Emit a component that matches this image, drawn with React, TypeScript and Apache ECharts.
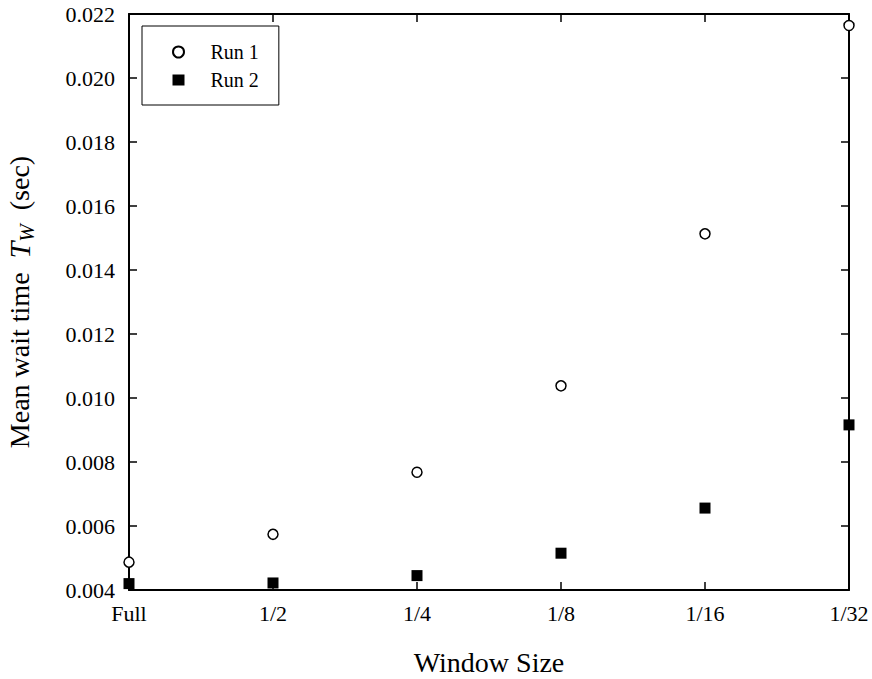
import React, { useEffect, useRef } from "react";
import * as echarts from "echarts";

const categories = ["Full", "1/2", "1/4", "1/8", "1/16", "1/32"];
const run1 = [0.00487, 0.00574, 0.00768, 0.01038, 0.01513, 0.02164];
const run2 = [0.0042, 0.00422, 0.00445, 0.00515, 0.00656, 0.00916];
const yMin = 0.004;
const yMax = 0.022;
const yStep = 0.002;

const FONT = "Liberation Serif, serif";

export default function App() {
  const ref = useRef<HTMLDivElement>(null);
  useEffect(() => {
    if (!ref.current) return;
    const chart = echarts.init(ref.current, undefined, { renderer: "svg" });
    const axisLine = { show: true, lineStyle: { color: "#000", width: 2 } };
    const tick = { show: true, inside: true, length: 8, lineStyle: { color: "#000", width: 1.5 } };
    chart.setOption({
      animation: false,
      backgroundColor: "#fff",
      textStyle: { fontFamily: FONT, color: "#000" },
      grid: {
        left: 129,
        right: 23,
        top: 14,
        bottom: 89,
        containLabel: false,
        outerBoundsMode: "none",
      },
      legend: {
        left: 142,
        top: 26,
        orient: "vertical",
        borderColor: "#000",
        borderWidth: 1,
        borderRadius: 0,
        padding: [16, 20, 15, 30],
        itemWidth: 12,
        itemHeight: 11,
        itemGap: 8,
        textStyle: {
          fontFamily: FONT,
          fontSize: 20,
          color: "#000",
          lineHeight: 19,
          padding: [0, 0, 0, 21],
        },
        data: [
          { name: "Run 1", icon: "circle" },
          { name: "Run 2", icon: "rect" },
        ],
      },
      xAxis: [
        {
          type: "category",
          data: categories,
          boundaryGap: false,
          axisLine,
          axisTick: tick,
          axisLabel: { fontFamily: FONT, fontSize: 22, color: "#000", margin: 12 },
          splitLine: { show: false },
          name: "Window Size",
          nameLocation: "middle",
          nameGap: 58,
          nameTextStyle: { fontFamily: FONT, fontSize: 28, color: "#000", lineHeight: 28 },
        },
        {
          type: "category",
          data: categories,
          boundaryGap: false,
          position: "top",
          axisLine,
          axisTick: tick,
          axisLabel: { show: false },
          splitLine: { show: false },
        },
      ],
      yAxis: [
        {
          type: "value",
          min: yMin,
          max: yMax,
          interval: yStep,
          axisLine,
          axisTick: tick,
          axisLabel: {
            fontFamily: FONT,
            fontSize: 22,
            color: "#000",
            margin: 14,
            formatter: (v: number) => v.toFixed(3),
          },
          splitLine: { show: false },
          name: "{n|Mean wait time  }{t|T}{s|W}{n|  (sec)}",
          nameLocation: "middle",
          nameGap: 92,
          nameTextStyle: {
            fontFamily: FONT,
            fontSize: 28,
            color: "#000",
            rich: {
              n: { fontFamily: FONT, fontSize: 28, color: "#000", lineHeight: 36 },
              t: { fontFamily: FONT, fontSize: 30, fontStyle: "italic", color: "#000", lineHeight: 36 },
              s: {
                fontFamily: FONT,
                fontSize: 21,
                fontStyle: "italic",
                color: "#000",
                lineHeight: 21,
                verticalAlign: "bottom",
              },
            },
          },
        },
        {
          type: "value",
          min: yMin,
          max: yMax,
          interval: yStep,
          position: "right",
          axisLine,
          axisTick: tick,
          axisLabel: { show: false },
          splitLine: { show: false },
        },
      ],
      series: [
        {
          name: "Run 1",
          type: "scatter",
          data: run1,
          symbol: "circle",
          symbolSize: 10,
          clip: false,
          itemStyle: { color: "#fff", borderColor: "#000", borderWidth: 1.5, opacity: 1 },
          z: 5,
        },
        {
          name: "Run 2",
          type: "scatter",
          data: run2,
          symbol: "rect",
          symbolSize: 11,
          clip: false,
          itemStyle: { color: "#000", borderColor: "#000", borderWidth: 0, opacity: 1 },
          z: 5,
        },
      ],
    });
    return () => chart.dispose();
  }, []);
  return (
    <div
      ref={ref}
      style={{ position: "fixed", left: 0, top: 0, width: 872, height: 679, background: "#fff" }}
    />
  );
}
